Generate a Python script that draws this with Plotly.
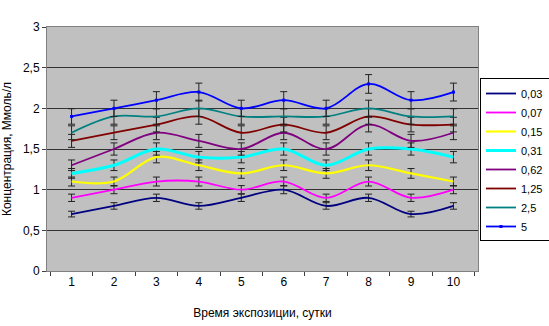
import plotly.graph_objects as go

days = ["1", "2", "3", "4", "5", "6", "7", "8", "9", "10"]
series_names = ["0,03", "0,07", "0,15", "0,31", "0,62", "1,25", "2,5", "5"]
s003 = [0.7, 0.8, 0.9, 0.8, 0.9, 1.0, 0.8, 0.9, 0.7, 0.8]
s007 = [0.9, 1.0, 1.1, 1.1, 1.0, 1.1, 0.9, 1.1, 0.9, 1.0]
s015 = [1.1, 1.1, 1.4, 1.3, 1.2, 1.3, 1.2, 1.3, 1.2, 1.1]
s031 = [1.2, 1.3, 1.5, 1.4, 1.4, 1.5, 1.3, 1.5, 1.5, 1.4]
s062 = [1.3, 1.5, 1.7, 1.6, 1.5, 1.7, 1.5, 1.8, 1.6, 1.7]
s125 = [1.6, 1.7, 1.8, 1.9, 1.7, 1.8, 1.7, 1.9, 1.8, 1.8]
s25 = [1.7, 1.9, 1.9, 2.0, 1.9, 1.9, 1.9, 2.0, 1.9, 1.9]
s5 = [1.9, 2.0, 2.1, 2.2, 2.0, 2.1, 2.0, 2.3, 2.1, 2.2]
error_percent = 5

all_series = [s003, s007, s015, s031, s062, s125, s25, s5]
colors = ["#000080", "#FF00FF", "#FFFF00", "#00FFFF", "#800080", "#800000", "#008080", "#0000FF"]
widths = [1.8, 1.8, 2.2, 3, 1.8, 1.8, 1.8, 1.8]

fig = go.Figure()
for name, vals, col, w in zip(series_names, all_series, colors, widths):
    fig.add_trace(go.Scatter(
        x=days, y=vals, name=name,
        mode="lines+markers" if name == "5" else "lines",
        line=dict(color=col, width=w, shape="spline", smoothing=1),
        marker=dict(size=3, symbol="square", color=col),
        error_y=dict(type="percent", value=error_percent, color="#222222",
                     thickness=1, width=3.5),
    ))

font = "Liberation Sans, Arial, sans-serif"
fig.update_layout(
    width=549, height=326,
    margin=dict(l=47, r=71, t=27, b=55, autoexpand=False),
    paper_bgcolor="white",
    plot_bgcolor="#C0C0C0",
    separators=", ",
    font=dict(family=font, size=12, color="black"),
    showlegend=True,
    legend=dict(
        xref="container", yref="container",
        x=480 / 549, xanchor="left", y=1 - 78 / 326, yanchor="top",
        bgcolor="white", bordercolor="black", borderwidth=1,
        font=dict(family=font, size=11, color="black"),
        itemwidth=30, tracegroupgap=0,
    ),
    xaxis=dict(
        type="category", tickson="boundaries",
        ticks="outside", ticklen=4, tickcolor="#404040",
        showline=True, linecolor="#808080", linewidth=1, mirror=True,
        showgrid=False,
        title=dict(text="Время экспозиции, сутки", font=dict(size=12), standoff=20),
        tickfont=dict(size=12),
    ),
    yaxis=dict(
        range=[0, 3], dtick=0.5,
        ticks="outside", ticklen=4, tickcolor="#404040",
        showline=True, linecolor="#808080", linewidth=1, mirror=True,
        showgrid=True, gridcolor="#333333", gridwidth=1,
        zeroline=False,
        title=dict(text="Концентрация, Ммоль/л", font=dict(size=12), standoff=8),
        tickfont=dict(size=12),
    ),
)

fig.write_html("out.html")
